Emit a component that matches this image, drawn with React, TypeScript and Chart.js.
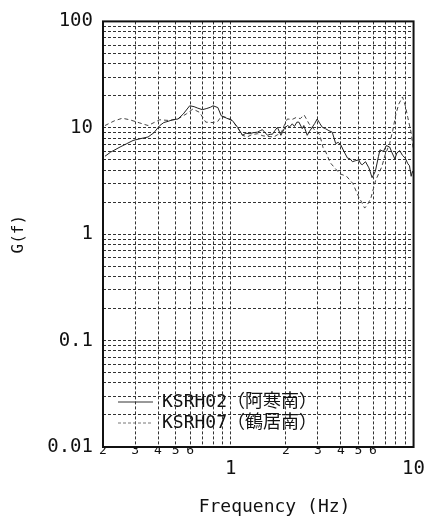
import React, { useEffect, useRef } from "react";
import { Chart, registerables } from "chart.js";

Chart.register(...registerables);

// ---- data ----
const freqA = [
  0.205, 0.22, 0.248, 0.27, 0.292, 0.32, 0.353, 0.38, 0.409, 0.43, 0.454, 0.48, 0.514, 0.55, 0.596, 0.63,
  0.66, 0.7, 0.74, 0.774, 0.8, 0.85, 0.886, 0.95, 1.02, 1.09, 1.16, 1.21, 1.26, 1.33, 1.4, 1.45, 1.49,
  1.54, 1.59, 1.64, 1.69, 1.75, 1.8, 1.88, 1.96, 2.04, 2.1, 2.17, 2.23, 2.3, 2.36, 2.46, 2.51, 2.62,
  2.7, 2.79, 2.88, 2.97, 3.07, 3.17, 3.3, 3.44, 3.59, 3.75, 3.87, 4.0, 4.16, 4.35, 4.5, 4.63, 4.8,
  5.02, 5.13, 5.24, 5.46, 5.7, 5.93, 6.18, 6.43, 6.55, 6.84, 7.1, 7.4, 7.6, 7.9, 8.1, 8.4, 8.7, 9.0,
  9.3, 9.5, 9.7, 9.85, 10.0,
];
const gA = [
  5.4, 5.9, 6.6, 7.1, 7.6, 7.9, 8.2, 9.0, 10.5, 11.2, 11.5, 11.9, 12.1, 13.5, 16.1, 15.8,
  15.3, 14.8, 15.2, 15.6, 16.1, 15.5, 13.0, 12.3, 11.7, 10.1, 8.5, 8.9, 8.8, 9.0, 9.1, 9.4, 9.6,
  9.0, 8.5, 8.7, 8.7, 9.5, 10.1, 8.5, 9.8, 10.5, 10.2, 10.9, 10.3, 11.3, 11.3, 9.8, 10.5, 8.5,
  9.3, 10.1, 11.0, 12.1, 11.0, 10.1, 9.8, 9.4, 9.1, 7.1, 7.3, 6.9, 6.0, 5.2, 5.1, 4.8, 4.9,
  5.0, 4.6, 4.5, 4.8, 4.2, 3.4, 3.9, 5.4, 6.2, 6.0, 6.8, 6.6, 5.9, 5.1, 5.8, 6.1, 5.5, 5.2,
  4.6, 4.4, 3.5, 3.9, 3.7,
];

const freqB = [
  0.205, 0.23, 0.255, 0.28, 0.318, 0.353, 0.38, 0.409, 0.463, 0.514, 0.571, 0.62, 0.674, 0.73, 0.8,
  0.85, 0.886, 0.95, 1.02, 1.09, 1.16, 1.23, 1.3, 1.4, 1.5, 1.59, 1.72, 1.8, 1.88, 1.96, 2.04, 2.17,
  2.28, 2.4, 2.52, 2.6, 2.68, 2.9, 3.06, 3.2, 3.3, 3.5, 3.95, 4.3, 4.65, 5.0, 5.2, 5.4, 5.6, 5.85,
  6.2, 6.7, 7.0, 7.4, 7.7, 8.0, 8.3, 8.7, 9.0, 9.3, 9.7, 10.0,
];
const gB = [
  10.5, 11.6, 12.3, 11.9, 11.1, 10.5, 11.2, 11.9, 11.7, 12.1, 13.5, 15.0, 14.0, 11.3, 11.2,
  11.5, 12.8, 12.5, 11.7, 10.0, 8.5, 8.2, 8.6, 8.8, 8.4, 8.3, 8.2, 8.6, 8.8, 10.5, 12.1, 12.0,
  12.5, 12.2, 13.2, 12.0, 10.9, 9.4, 8.7, 6.5, 6.0, 4.7, 3.7, 3.5, 3.0, 2.26, 2.0, 1.76, 1.9, 2.2,
  3.2, 4.3, 5.6, 7.1, 9.5, 13.4, 16.7, 19.5, 16.3, 12.5, 9.0, 6.0,
];

const seriesLabels = ["KSRH02（阿寒南）", "KSRH07（鶴居南）"];

// ticks
const xTickValues = [0.2, 0.3, 0.4, 0.5, 0.6, 0.7, 0.8, 0.9, 1, 2, 3, 4, 5, 6, 7, 8, 9, 10];
const xTickLabels: (string | string[])[] = [
  "2", "3", "4", "5", "6", "", "", "", ["", "1"], "2", "3", "4", "5", "6", "", "", "", ["", "10"],
];
const yDecades = [0.01, 0.1, 1, 10];
const yMultipliers = [1, 2, 3, 4, 5, 6, 7, 8, 9];
const yMajorValues = [0.01, 0.1, 1, 10, 100];
const yMajorLabels = ["0.01", "0.1", "1", "10", "100"];

const xTitle = "Frequency (Hz)";
const yTitle = "G(f)";

const FONT = "'DejaVu Sans Mono', 'Noto Sans CJK JP', monospace";

export default function App() {
  const ref = useRef<HTMLCanvasElement | null>(null);

  useEffect(() => {
    if (!ref.current) return;
    const yTickValues: number[] = [];
    yDecades.forEach((d) => yMultipliers.forEach((m) => yTickValues.push(parseFloat((m * d).toPrecision(3)))));
    yTickValues.push(100);

    const frame = {
      id: "frame",
      afterDraw(chart: any) {
        const { ctx, chartArea } = chart;
        ctx.save();
        ctx.strokeStyle = "#111";
        ctx.lineWidth = 2;
        ctx.setLineDash([]);
        ctx.strokeRect(chartArea.left, chartArea.top, chartArea.right - chartArea.left, chartArea.bottom - chartArea.top);
        ctx.restore();
      },
    };
    const legendPlace = {
      id: "legendPlace",
      beforeDraw(chart: any) {
        const lg = chart.legend;
        if (!lg) return;
        const h = lg.bottom - lg.top;
        const w = lg.right - lg.left;
        lg.left = 115;
        lg.top = 390;
        lg.right = 115 + w;
        lg.bottom = 390 + h;
      },
    };

    const chart = new Chart(ref.current, {
      type: "line",
      data: {
        datasets: [
          {
            label: seriesLabels[0],
            data: freqA.map((f, i) => ({ x: f, y: gA[i] })),
            borderColor: "#222",
            borderWidth: 1,
            pointRadius: 0,
            pointStyle: "line",
            tension: 0,
          },
          {
            label: seriesLabels[1],
            data: freqB.map((f, i) => ({ x: f, y: gB[i] })),
            borderColor: "#444",
            borderWidth: 1,
            borderDash: [4, 3],
            pointRadius: 0,
            pointStyle: "line",
            tension: 0,
          },
        ],
      },
      options: {
        animation: false,
        responsive: false,
        events: [],
        layout: { padding: { left: 0, right: 10, top: 16, bottom: 0 } },
        plugins: {
          tooltip: { enabled: false },
          legend: {
            position: "chartArea" as any,
            align: "start",
            labels: {
              usePointStyle: true,
              pointStyleWidth: 35,
              padding: 3,
              color: "#111",
              font: { family: FONT, size: 18 },
              generateLabels: (ch: any) =>
                ch.data.datasets.map((ds: any, i: number) => ({
                  text: ds.label,
                  fillStyle: "rgba(0,0,0,0)",
                  strokeStyle: i === 0 ? "#333" : "#777",
                  lineWidth: 1,
                  lineDash: i === 0 ? [] : [3, 2],
                  pointStyle: "line",
                  fontColor: "#111",
                  hidden: false,
                  datasetIndex: i,
                })),
            },
          },
        },
        scales: {
          x: {
            type: "logarithmic",
            min: 0.2,
            max: 10,
            afterBuildTicks: (scale: any) => {
              scale.ticks = xTickValues.map((v) => ({ value: v }));
            },
            afterFit: (scale: any) => {
              scale.height = 78;
            },
            grid: { color: "#333", lineWidth: 1, drawTicks: false },
            border: { display: false, dash: [3, 2] },
            ticks: {
              autoSkip: false,
              maxRotation: 0,
              padding: 0,
              color: "#111",
              font: (ctx: any) =>
                ctx.index === 8 || ctx.index === 17
                  ? { family: FONT, size: 19, lineHeight: 0.76 }
                  : { family: FONT, size: 13, lineHeight: 0.6 },
              callback: (_v: any, i: number) => xTickLabels[i],
            },
            title: {
              display: true,
              text: "   " + xTitle,
              color: "#111",
              font: { family: FONT, size: 18 },
              padding: { top: 0, bottom: 7 },
            },
          },
          y: {
            type: "logarithmic",
            min: 0.01,
            max: 100,
            afterBuildTicks: (scale: any) => {
              scale.ticks = yTickValues.map((v) => ({ value: v }));
            },
            afterFit: (scale: any) => {
              scale.width = 103;
            },
            grid: { color: "#333", lineWidth: 1, drawTicks: false },
            border: { display: false, dash: [3, 2] },
            ticks: {
              autoSkip: false,
              padding: 10,
              color: "#111",
              font: { family: FONT, size: 19 },
              callback: (v: any) => {
                const n = Number(v);
                const k = yMajorValues.findIndex((m) => Math.abs(n / m - 1) < 1e-6);
                return k >= 0 ? yMajorLabels[k] : "";
              },
            },
            title: {
              display: true,
              text: yTitle,
              color: "#111",
              font: { family: FONT, size: 16 },
              padding: { top: 9, bottom: 0 },
            },
          },
        },
      },
      plugins: [frame, legendPlace],
    });
    return () => chart.destroy();
  }, []);

  return (
    <div style={{ position: "fixed", left: 0, top: 0, width: 425, height: 525, background: "#fff" }}>
      <canvas ref={ref} width={425} height={525} style={{ display: "block" }} />
    </div>
  );
}
